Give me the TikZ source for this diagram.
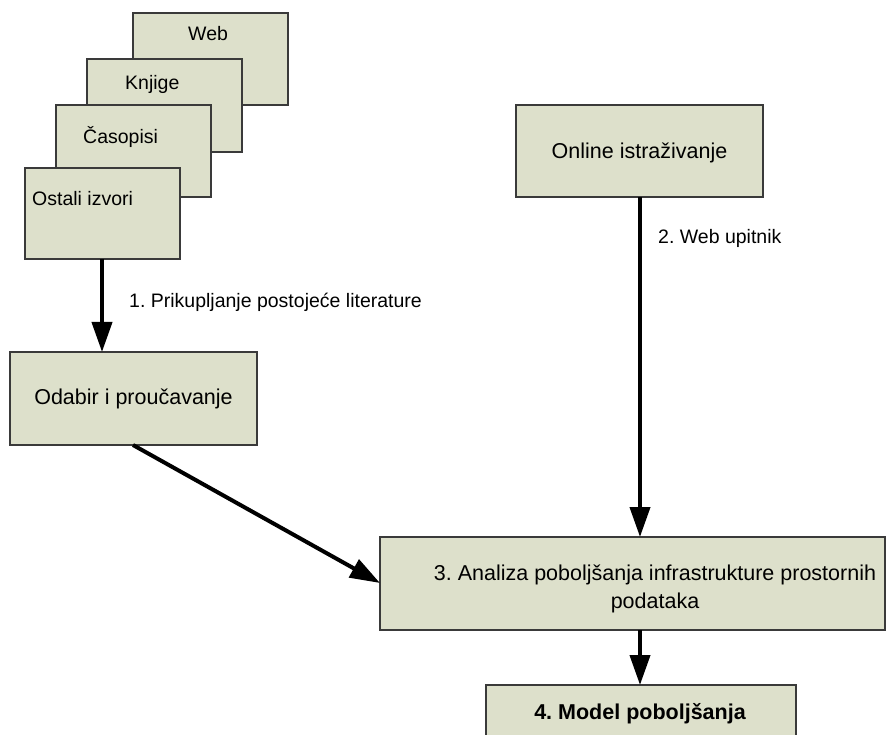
\documentclass[tikz,border=0pt]{standalone}
\usepackage{fontspec}
\setmainfont{Liberation Sans}
\frenchspacing
\usetikzlibrary{arrows.meta}
\definecolor{boxfill}{HTML}{DDE0CB}
\definecolor{boxline}{HTML}{3A3A3A}
\begin{document}
\begin{tikzpicture}[x=1pt,y=-1pt,
  box/.style={draw=boxline,fill=boxfill,line width=1.1pt},
  boxtext/.style={font=\fontsize{21.5}{28}\selectfont,align=center,inner sep=0pt},
  smalltext/.style={font=\fontsize{19.5}{24}\selectfont,inner sep=0pt},
  flow/.style={line width=4pt,-{Triangle[length=30pt,width=20pt]},shorten <=0pt}
]
\useasboundingbox (0,0) rectangle (887,735);
\clip (0,0) rectangle (887,735);

% stacked source boxes
\draw[box] (133,13) rectangle (288,105);
\node[smalltext,anchor=west] (web) at (188,34) {Web};
\draw[box] (87,59) rectangle (242,152);
\node[smalltext,anchor=west] (knj) at (125,84) {Knjige};
\draw[box] (56,105) rectangle (211,197);
\node[smalltext,anchor=west] (cas) at (83,137) {Časopisi};
\draw[box] (25,168) rectangle (180,259);
\node[smalltext,anchor=west] (ost) at (32,199) {Ostali izvori};
\coordinate (srcbot) at (102,259);

% selection and study
\draw[box] (10,352) rectangle (257,445);
\node[boxtext] (odabir) at (133.5,399) {Odabir i proučavanje};
\coordinate (odtop) at (102,352);
\coordinate (odbot) at (133,445);

% online research
\draw[box] (516,105) rectangle (763,197);
\node[boxtext] (online) at (639.5,153) {Online istraživanje};
\coordinate (onbot) at (640,197);

% analysis
\draw[box] (380,537) rectangle (885,630);
\node[boxtext] (analiza) at (655,589) {3. Analiza poboljšanja infrastrukture prostornih\\podataka};
\coordinate (antop) at (640,537);
\coordinate (anleft) at (380,583);
\coordinate (anbot) at (640,630);

% model
\draw[box] (486,685) rectangle (796,760);
\node[boxtext,font=\fontsize{21.5}{27}\selectfont\bfseries] (model) at (640,714) {4. Model poboljšanja};
\coordinate (motop) at (640,685);

% connectors
\draw[flow] (srcbot) -- (odtop);
\node[smalltext,anchor=west] (l1) at (129,302) {1. Prikupljanje postojeće literature};
\draw[flow] (onbot) -- (antop);
\node[smalltext,anchor=west] (l2) at (658,238) {2. Web upitnik};
\draw[flow] (odbot) -- (anleft);
\draw[flow] (anbot) -- (motop);
\end{tikzpicture}
\end{document}
